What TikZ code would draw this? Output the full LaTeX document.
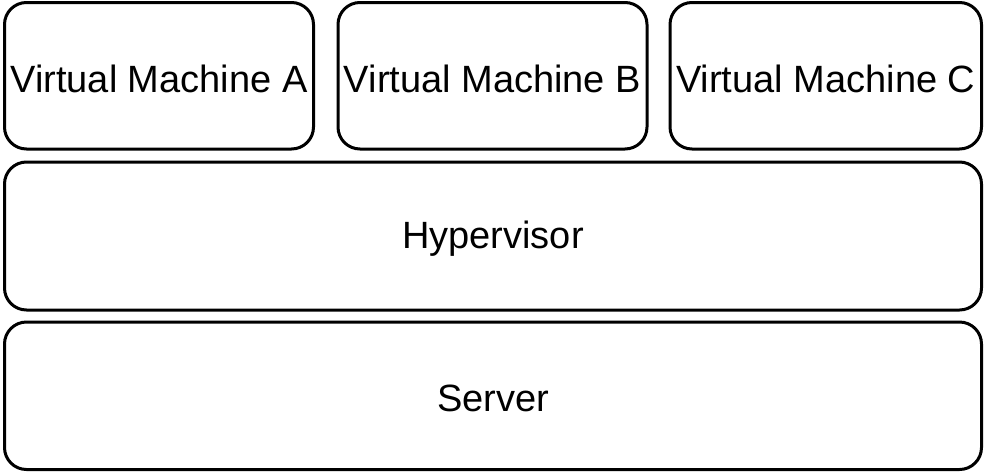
\documentclass[tikz,border=0pt]{standalone}
\usepackage{fontspec}
\setmainfont{Liberation Sans}
\begin{document}
\begin{tikzpicture}[x=1pt,y=-1pt,
  layerbox/.style={draw=black,line width=3pt,rounded corners=22pt,fill=white},
  lbl/.style={font=\fontsize{38}{45}\selectfont,yshift=-3pt}]
\useasboundingbox[fill=white] (0,0) rectangle (985,472);
\draw[layerbox] (4.5,2.5) rectangle (313.5,149) node[midway,lbl] (vma) {Virtual Machine A};
\draw[layerbox] (338,2.5) rectangle (647,149) node[midway,lbl] (vmb) {Virtual Machine B};
\draw[layerbox] (670,2.5) rectangle (981.5,149) node[midway,lbl] (vmc) {Virtual Machine C};
\draw[layerbox] (4.5,162) rectangle (981.5,310) node[midway,lbl] (hyp) {Hypervisor};
\draw[layerbox] (4.5,322) rectangle (981.5,469.5) node[midway,lbl] (srv) {Server};
\end{tikzpicture}
\end{document}
